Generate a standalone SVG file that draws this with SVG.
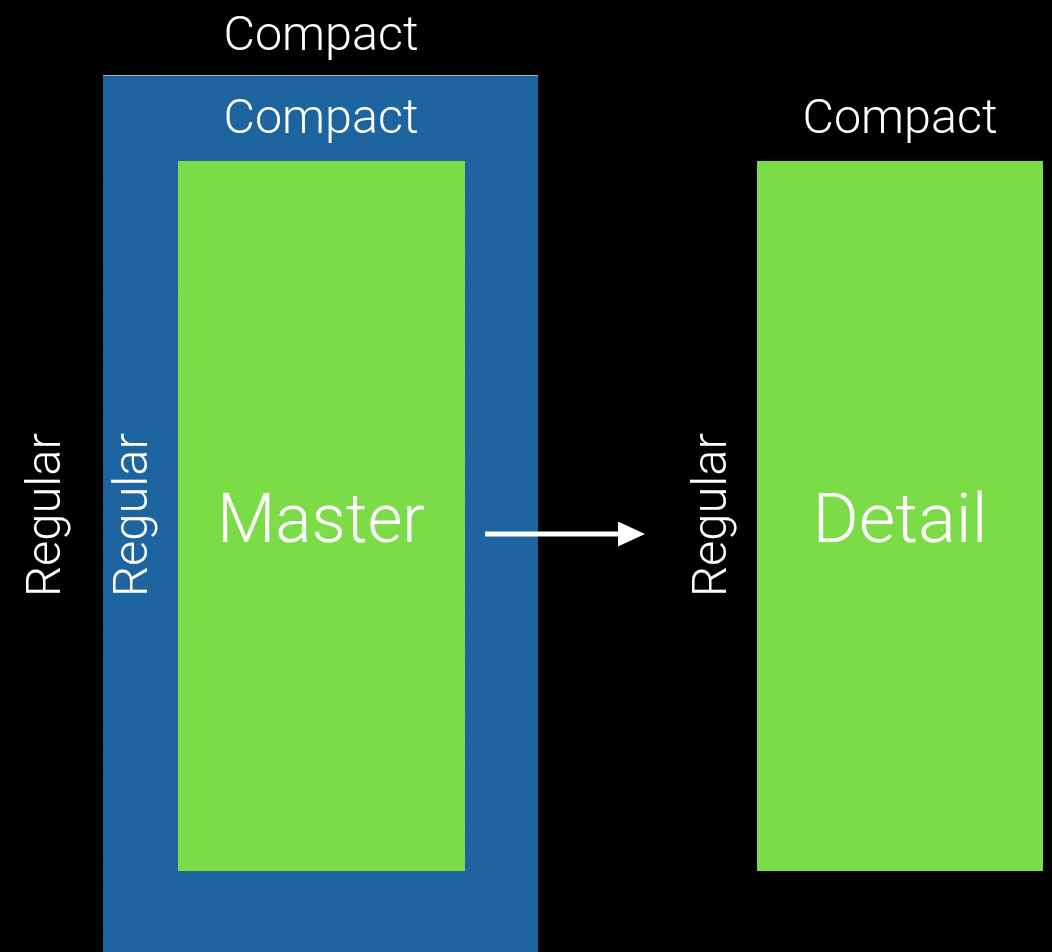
<svg xmlns="http://www.w3.org/2000/svg" width="1052" height="952" viewBox="0 0 1052 952">
  <style>
    .lbl { font-family: Roboto, "Liberation Sans", Arial, sans-serif; font-weight: 300; fill: #ffffff; font-size: 48px; text-anchor: middle; }
    .big { font-family: Roboto, "Liberation Sans", Arial, sans-serif; font-weight: 300; fill: #ffffff; font-size: 68px; text-anchor: middle; }
    .green { fill: #7bdc48; }
    .blue { fill: #2066a2; }
  </style>
  <defs>
    <filter id="grain" x="0" y="0" width="100%" height="100%">
      <feTurbulence type="fractalNoise" baseFrequency="0.9" numOctaves="2" seed="3" result="n"/>
      <feColorMatrix in="n" type="matrix" values="0 0 0 0 0  0 0 0 0 0  0 0 0 0 0  0 0 0 0.06 0" result="dark"/>
      <feComposite in="dark" in2="SourceGraphic" operator="in" result="d2"/>
      <feMerge><feMergeNode in="SourceGraphic"/><feMergeNode in="d2"/></feMerge>
    </filter>
    <marker id="arrowhead" markerWidth="27" markerHeight="25" refX="0" refY="12.5" orient="auto" markerUnits="userSpaceOnUse">
      <polygon points="0,0 27,12.5 0,25" fill="#ffffff"/>
    </marker>
  </defs>
  <rect x="0" y="0" width="1052" height="952" fill="#000000"/>

  <g id="outer-labels">
    <text class="lbl" x="321" y="50" textLength="195" lengthAdjust="spacingAndGlyphs">Compact</text>
    <text class="lbl" x="0" y="0" transform="translate(60,515) rotate(-90)" textLength="164" lengthAdjust="spacingAndGlyphs">Regular</text>
  </g>

  <g id="master-container">
    <rect class="blue" x="103" y="75" width="435" height="877" filter="url(#grain)"/>
    <line x1="103" y1="75.5" x2="538" y2="75.5" stroke="#9fb3c6" stroke-width="1"/>
    <text class="lbl" x="321" y="133" textLength="195" lengthAdjust="spacingAndGlyphs">Compact</text>
    <text class="lbl" x="0" y="0" transform="translate(147,515) rotate(-90)" textLength="164" lengthAdjust="spacingAndGlyphs">Regular</text>
  </g>

  <g id="master">
    <rect class="green" x="178" y="161" width="287" height="710"/>
    <text class="big" x="321" y="542" textLength="208" lengthAdjust="spacingAndGlyphs">Master</text>
  </g>

  <g id="detail-labels">
    <text class="lbl" x="900" y="133" textLength="195" lengthAdjust="spacingAndGlyphs">Compact</text>
    <text class="lbl" x="0" y="0" transform="translate(726,515) rotate(-90)" textLength="164" lengthAdjust="spacingAndGlyphs">Regular</text>
  </g>

  <g id="detail">
    <rect class="green" x="757" y="161" width="286" height="710"/>
    <text class="big" x="900" y="542" textLength="175" lengthAdjust="spacingAndGlyphs">Detail</text>
  </g>

  <g id="connectors">
    <line x1="485" y1="534" x2="618" y2="534" stroke="#ffffff" stroke-width="5" marker-end="url(#arrowhead)"/>
  </g>
</svg>
